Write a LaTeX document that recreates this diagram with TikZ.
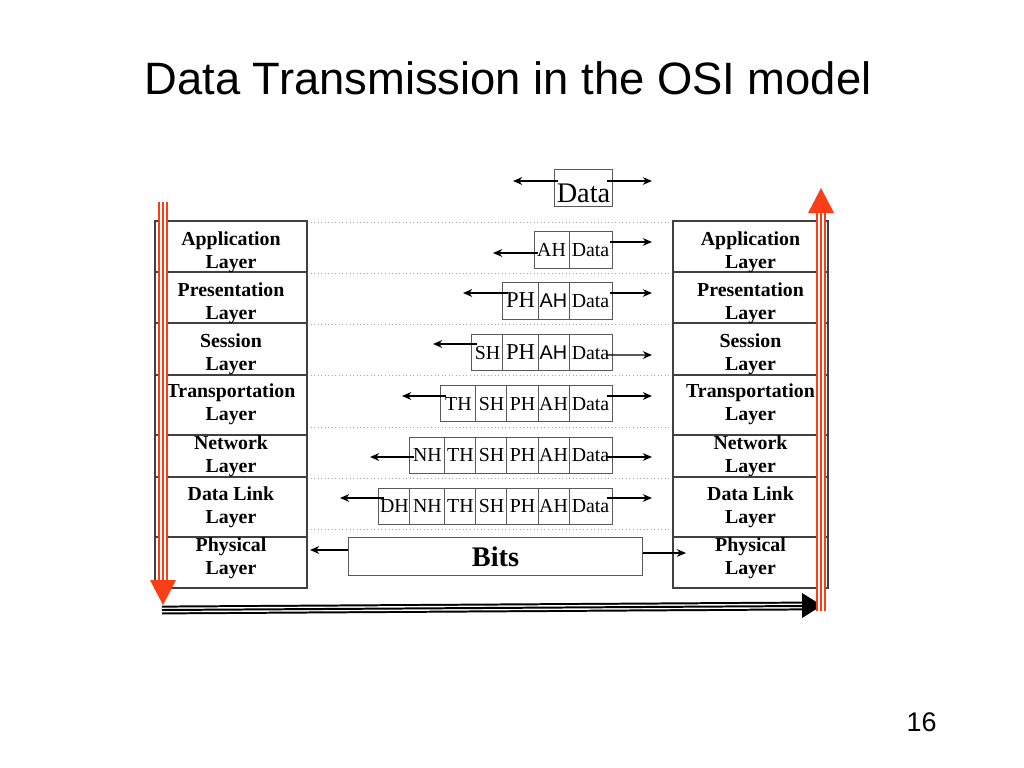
\documentclass[tikz,border=0pt]{standalone}
\usepackage{fontspec}
\setmainfont{Liberation Serif}
\setsansfont{Liberation Sans}
\usetikzlibrary{arrows.meta,calc,positioning}
\definecolor{osired}{RGB}{250,62,22}

\begin{document}
\begin{tikzpicture}[
  x=0.0248cm, y=-0.0248cm,
  >={Stealth[length=6.5pt,width=5.5pt]},
  stack/.style={draw=black!75, line width=0.9pt},
  sepline/.style={draw=black!35, dotted, line width=0.5pt},
  lab/.style={font=\bfseries\fontsize{14}{16.3}\selectfont, align=center, inner sep=0pt},
  hcell/.style={draw=black!65, line width=0.7pt, inner sep=0pt, outer sep=0pt,
    minimum width=0.769cm, minimum height=0.893cm, text height=9.6pt, text depth=0pt,
    font=\fontsize{14}{14}\selectfont},
  wcell/.style={hcell, minimum width=0.868cm},
  dcell/.style={hcell, minimum width=1.066cm},
  bigph/.style={font=\fontsize{16}{16}\selectfont},
  sansah/.style={font=\sffamily\fontsize{14}{14}\selectfont},
  conn/.style={->, line width=0.9pt},
  redline/.style={draw=osired, line width=1.6pt, double=white, double distance=3.8pt},
  redcore/.style={draw=osired, line width=1.6pt},
  blkline/.style={draw=black, line width=1.4pt, double=white, double distance=3.4pt},
  blkcore/.style={draw=black, line width=1.4pt}
]
\path[use as bounding box] (0,0) rectangle (1024,768);

\node[font=\sffamily\fontsize{32}{38}\selectfont] (title) at (508,78) {Data Transmission in the OSI model};
\node[font=\sffamily\fontsize{19}{22}\selectfont] (pnum) at (921.5,722.5) {16};

% dotted separators between the layers
\foreach \y in {222,273,324,375,427,478,529}
  \draw[sepline] (307,\y) -- (673,\y);

% the two stacks
\draw[stack] (155,221) rectangle (307,588);
\draw[stack] (673,221) rectangle (828,588);
\foreach \y in {272,323,375,435,477,537} {
  \draw[stack] (155,\y) -- (307,\y);
  \draw[stack] (673,\y) -- (828,\y);
}

\node[lab] (lapp) at (231,252) {Application\\Layer};
\node[lab] (lpres) at (231,303) {Presentation\\Layer};
\node[lab] (lsess) at (231,354.5) {Session\\Layer};
\node[lab] (ltrans) at (231,404) {Transportation\\Layer};
\node[lab] (lnet) at (231,456) {Network\\Layer};
\node[lab] (llink) at (231,507) {Data Link\\Layer};
\node[lab] (lphys) at (231,558.5) {Physical\\Layer};

\node[lab] (rapp) at (750.5,252) {Application\\Layer};
\node[lab] (rpres) at (750.5,303) {Presentation\\Layer};
\node[lab] (rsess) at (750.5,354.5) {Session\\Layer};
\node[lab] (rtrans) at (750.5,404) {Transportation\\Layer};
\node[lab] (rnet) at (750.5,456) {Network\\Layer};
\node[lab] (rlink) at (750.5,507) {Data Link\\Layer};
\node[lab] (rphys) at (750.5,558.5) {Physical\\Layer};

% headers added on the way down
\node[hcell, minimum width=1.46cm, font=\fontsize{20}{20}\selectfont,
  text height=21pt, text depth=0pt] (dtop) at (583.5,188) {Data};

\node[dcell] (d1) at (590.5,250) {Data};
\node[wcell, left=0pt of d1] (ah1) {AH};

\node[dcell] (d2) at (590.5,301) {Data};
\node[hcell, sansah, left=0pt of d2] (ah2) {AH};
\node[wcell, bigph, left=0pt of ah2] (ph2) {PH};

\node[dcell] (d3) at (590.5,352.5) {Data};
\node[hcell, sansah, left=0pt of d3] (ah3) {AH};
\node[wcell, bigph, left=0pt of ah3] (ph3) {PH};
\node[hcell, left=0pt of ph3] (sh3) {SH};

\node[dcell] (d4) at (590.5,403.5) {Data};
\node[hcell, left=0pt of d4] (ah4) {AH};
\node[hcell, left=0pt of ah4] (ph4) {PH};
\node[hcell, left=0pt of ph4] (sh4) {SH};
\node[wcell, left=0pt of sh4] (th4) {TH};

\node[dcell] (d5) at (590.5,455) {Data};
\node[hcell, left=0pt of d5] (ah5) {AH};
\node[hcell, left=0pt of ah5] (ph5) {PH};
\node[hcell, left=0pt of ph5] (sh5) {SH};
\node[hcell, left=0pt of sh5] (th5) {TH};
\node[wcell, left=0pt of th5] (nh5) {NH};

\node[dcell] (d6) at (590.5,506) {Data};
\node[hcell, left=0pt of d6] (ah6) {AH};
\node[hcell, left=0pt of ah6] (ph6) {PH};
\node[hcell, left=0pt of ph6] (sh6) {SH};
\node[hcell, left=0pt of sh6] (th6) {TH};
\node[wcell, left=0pt of th6] (nh6) {NH};
\node[hcell, left=0pt of nh6] (dh6) {DH};

\node[draw=black!65, line width=0.7pt, minimum width=7.27cm, minimum height=0.918cm,
  font=\bfseries\fontsize{20}{20}\selectfont] (bits) at (495.5,556.5) {Bits};

% arrow ends
\coordinate (tl) at (513,181);  \coordinate (tr) at (652,181);
\coordinate (l1) at (493,253);  \coordinate (r1) at (652,242);
\coordinate (l2) at (463,293);  \coordinate (r2) at (652,293);
\coordinate (l3) at (433,344);  \coordinate (r3) at (652,355);
\coordinate (l4) at (402,396);  \coordinate (r4) at (652,396);
\coordinate (l5) at (370,457);  \coordinate (r5) at (652,457);
\coordinate (l6) at (340,498);  \coordinate (r6) at (652,498);
\coordinate (pl) at (310,550);  \coordinate (pr) at (686,553);

\draw[conn] ($(dtop.west)+(4,-7)$) -- (tl);
\draw[conn] ($(dtop.east)+(-6,-7)$) -- (tr);
\draw[conn] ($(ah1.west)+(4,3)$) -- (l1);
\draw[conn] ($(d1.east)+(-2,-8)$) -- (r1);
\draw[conn] ($(ph2.west)+(5,-8)$) -- (l2);
\draw[conn] ($(d2.east)+(-2,-8)$) -- (r2);
\draw[conn] ($(sh3.west)+(5,-8.5)$) -- (l3);
\draw[conn] ($(d3.east)+(-5,2.5)$) -- (r3);
\draw[conn] ($(th4.west)+(5,-7.5)$) -- (l4);
\draw[conn] ($(d4.east)+(-5,-7.5)$) -- (r4);
\draw[conn] ($(nh5.west)+(4,2)$) -- (l5);
\draw[conn] ($(d5.east)+(-5,2)$) -- (r5);
\draw[conn] ($(dh6.west)+(5,-8)$) -- (l6);
\draw[conn] ($(d6.east)+(-5,-8)$) -- (r6);
\draw[conn] ($(bits.west)+(0,-6.5)$) -- (pl);
\draw[conn] ($(bits.east)+(0,-3.5)$) -- (pr);

% down, across, up
\coordinate (sendtop) at (163,202);  \coordinate (sendbot) at (163,582);
\coordinate (wirel) at (162,610);    \coordinate (wirer) at (803,606);
\coordinate (recvbot) at (821,611);  \coordinate (recvtop) at (821,211);

\draw[blkline] (wirel) -- (wirer);
\draw[blkcore] (wirel) -- (wirer);
\fill (802,593) -- (802,618) -- (822,605.5) -- cycle;

\draw[redline] (sendtop) -- (sendbot);
\draw[redcore] (sendtop) -- (sendbot);
\fill[osired] (150,580) -- (176,580) -- (163,605) -- cycle;

\draw[redline] (recvbot) -- (recvtop);
\draw[redcore] (recvbot) -- (recvtop);
\fill[osired] (808,213) -- (834,213) -- (821,188) -- cycle;
\end{tikzpicture}
\end{document}
